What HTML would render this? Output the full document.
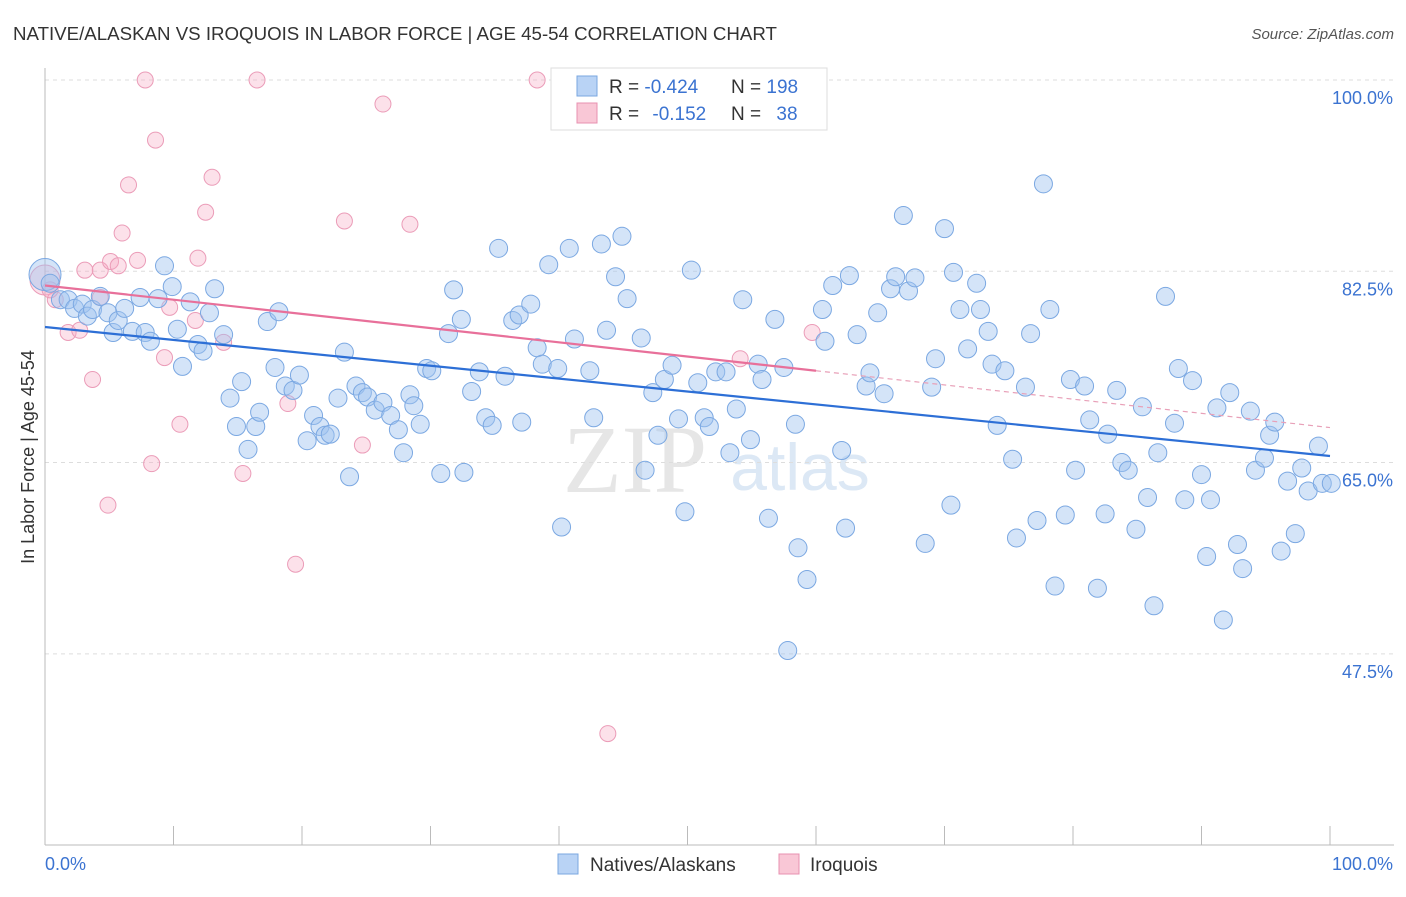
<!DOCTYPE html>
<html><head><meta charset="utf-8"><style>
body{margin:0;background:#fff;font-family:"Liberation Sans",sans-serif}
svg text{font-family:"Liberation Sans",sans-serif}
</style></head><body>
<svg id="chart" width="1406" height="892" viewBox="0 0 1406 892" xmlns="http://www.w3.org/2000/svg">
<text x="13" y="40" font-size="18.7" fill="#333">NATIVE/ALASKAN VS IROQUOIS IN LABOR FORCE | AGE 45-54 CORRELATION CHART</text>
<text x="1394" y="39" font-size="15" fill="#555" font-style="italic" text-anchor="end">Source: ZipAtlas.com</text>
<g>
<text x="635" y="492" font-size="96" fill="#e6e6e6" text-anchor="middle" font-family="Liberation Serif" style="font-family:'Liberation Serif',serif">ZIP</text>
<text x="800" y="490" font-size="66" fill="#dce8f5" text-anchor="middle">atlas</text>
</g>
<g id="grid"></g>
<g id="axes"></g>
<g id="pinkPts"></g>
<g id="bluePts"></g>
<g id="trends"></g>
<g>
<rect x="551" y="68" width="276" height="62" fill="#fff" stroke="#ddd"/>
<rect x="577" y="76" width="20" height="20" fill="#b9d3f5" stroke="#7aa7e0"/>
<rect x="577" y="103" width="20" height="20" fill="#f9c7d6" stroke="#e890b0"/>
<text x="609" y="93" font-size="19" fill="#333">R = <tspan fill="#3b73d1">-0.424</tspan></text>
<text x="731" y="93" font-size="19" fill="#333">N = <tspan fill="#3b73d1">198</tspan></text>
<text x="609" y="120" font-size="19" fill="#333">R = <tspan fill="#3b73d1" dx="8">-0.152</tspan></text>
<text x="731" y="120" font-size="19" fill="#333">N = <tspan fill="#3b73d1" dx="10">38</tspan></text>
</g>
<g>
<rect x="558" y="854" width="20" height="20" fill="#b9d3f5" stroke="#7aa7e0"/>
<text x="590" y="871" font-size="19" fill="#333">Natives/Alaskans</text>
<rect x="779" y="854" width="20" height="20" fill="#f9c7d6" stroke="#e890b0"/>
<text x="810" y="871" font-size="19" fill="#333">Iroquois</text>
</g>
</svg>
<script>
const yTicks=[100,82.5,65,47.5];
const yTickLabels=["100.0%","82.5%","65.0%","47.5%"];
const xTickLabels=["0.0%","100.0%"];
const blueX=[0,.4,1.2,1.8,2.3,2.9,3.3,3.7,4.3,4.9,5.3,5.7,6.2,6.8,7.4,7.8,8.2,8.8,9.3,9.9,10.3,10.7,11.3,11.9,12.3,12.8,13.2,13.9,14.4,14.9,15.3,15.8,16.4,16.7,17.3,17.9,18.2,18.7,19.3,19.8,20.4,20.9,21.4,21.8,22.2,22.8,23.3,23.7,24.2,24.7,25.1,25.7,26.3,26.9,27.5,27.9,28.4,28.7,29.2,29.7,30.1,30.8,31.4,31.8,32.4,32.6,33.2,33.8,34.3,34.8,35.3,35.8,36.4,36.9,37.1,37.8,38.3,38.7,39.2,39.9,40.2,40.8,41.2,42.4,42.7,43.3,43.7,44.4,44.9,45.3,46.4,46.7,47.3,47.7,48.2,48.8,49.3,49.8,50.3,50.8,51.3,51.7,52.2,53.0,53.3,53.8,54.3,54.9,55.5,55.8,56.3,56.8,57.5,57.8,58.4,58.6,59.3,60.5,60.7,61.3,62.0,62.3,62.6,63.2,63.9,64.2,64.8,65.3,65.8,66.2,66.8,67.2,67.7,68.5,69.0,69.3,70.0,70.5,70.7,71.2,71.8,72.5,72.8,73.4,73.7,74.1,74.7,75.3,75.6,76.3,76.7,77.2,77.7,78.2,78.6,79.4,79.8,80.2,80.9,81.3,81.9,82.5,82.7,83.4,83.8,84.3,84.9,85.4,85.8,86.3,86.6,87.2,87.9,88.2,88.7,89.3,90.0,90.4,90.7,91.2,91.7,92.2,92.8,93.2,93.8,94.2,94.9,95.3,95.7,96.2,96.7,97.3,97.8,98.3,99.1,99.4,100.1];
const blueY=[82.2,81.4,79.9,79.9,79.1,79.5,78.4,79.0,80.2,78.7,76.9,78.0,79.1,77.0,80.1,76.9,76.1,80.0,83.0,81.1,77.2,73.8,79.7,75.8,75.2,78.7,80.9,76.7,70.9,68.3,72.4,66.2,68.3,69.6,77.9,73.7,78.8,72.0,71.6,73.0,67.0,69.3,68.3,67.5,67.6,70.9,75.1,63.7,72.0,71.4,71.0,69.8,70.5,69.3,68.0,65.9,71.2,70.2,68.5,73.6,73.4,64.0,76.8,80.8,78.1,64.1,71.5,73.3,69.1,68.4,84.6,72.9,78.0,78.5,68.7,79.5,75.5,74.0,83.1,73.6,59.1,84.6,76.3,73.4,69.1,85.0,77.1,82.0,85.7,80.0,76.4,64.3,71.4,67.5,72.6,73.9,69.0,60.5,82.6,72.3,69.1,68.3,73.3,73.3,65.9,69.9,79.9,67.1,74.0,72.6,59.9,78.1,73.7,47.8,68.5,57.2,54.3,79.0,76.1,81.2,66.1,59.0,82.1,76.7,72.0,73.2,78.7,71.3,80.9,82.0,87.6,80.7,81.9,57.6,71.9,74.5,86.4,61.1,82.4,79.0,75.4,81.4,79.0,77.0,74.0,68.4,73.4,65.3,58.1,71.9,76.8,59.7,90.5,79.0,53.7,60.2,72.6,64.3,72.0,68.9,53.5,60.3,67.6,71.6,65.0,64.3,58.9,70.1,61.8,51.9,65.9,80.2,68.6,73.6,61.6,72.5,63.9,56.4,61.6,70.0,50.6,71.4,57.5,55.3,69.7,64.3,65.4,67.5,68.7,56.9,63.3,58.5,64.5,62.4,66.5,63.1,63.1];
const pinkX=[0,.8,1.8,2.7,3.7,4.3,4.9,5.1,5.7,6.0,6.5,7.2,7.8,8.3,8.6,9.3,9.7,10.5,11.7,11.9,12.5,13.0,13.9,15.4,16.5,18.9,19.5,23.3,24.7,26.3,28.4,38.3,43.8,54.1,59.7,3.1,4.3,.4];
const pinkY=[81.7,79.9,76.9,77.1,72.6,82.6,61.1,83.4,83.0,86.0,90.4,83.5,100,64.9,94.5,74.6,79.2,68.5,78.0,83.7,87.9,91.1,76.0,64.0,100,70.4,55.7,87.1,66.6,97.8,86.8,100,40.2,74.5,76.9,82.6,80.1,80.8];
const blueTrend=[77.4,65.6];
const pinkTrend=[81.2,68.2];
const pinkSolidEnd=60;
const NS="http://www.w3.org/2000/svg";
const X0=45,X1=1330,Y100=80,PXPER=10.93;
function sx(v){return X0+(X1-X0)*v/100;}
function sy(v){return Y100+(100-v)*PXPER;}
function mk(tag,attrs,parent){const e=document.createElementNS(NS,tag);for(const k in attrs)e.setAttribute(k,attrs[k]);parent.appendChild(e);return e;}
const grid=document.getElementById('grid'),axes=document.getElementById('axes');
yTicks.forEach((t,i)=>{
  const l=mk('line',{x1:45,x2:1394,y1:sy(t),y2:sy(t),stroke:'#ddd','stroke-dasharray':'4,4'},grid);
  
  
  const tx=mk('text',{x:1393,y:sy(t)+24,'font-size':18,fill:'#3b73d1','text-anchor':'end'},axes);
  tx.textContent=yTickLabels[i];
  
  
});
const ya=mk('line',{x1:45,x2:45,y1:68,y2:845,stroke:'#bbb'},axes);


const xa=mk('line',{x1:45,x2:1394,y1:845,y2:845,stroke:'#bbb'},axes);


for(let i=0;i<=10;i++){
  const t=mk('line',{x1:sx(i*10),x2:sx(i*10),y1:826,y2:845,stroke:'#bbb'},axes);
  
  
}
[[0,'start',45],[100,'end',1393]].forEach((p,i)=>{
  const t=mk('text',{x:p[2],y:870,'font-size':18,fill:'#3b73d1','text-anchor':p[1]},axes);
  t.textContent=xTickLabels[i];
  
  
});
const yt=mk('text',{x:0,y:0,'font-size':18,fill:'#333','text-anchor':'middle',transform:'translate(34,457) rotate(-90)'},axes);
yt.textContent='In Labor Force | Age 45-54';


const bp=document.getElementById('bluePts'),pp=document.getElementById('pinkPts');
pinkX.forEach((x,i)=>{
  const c=mk('circle',{cx:sx(x),cy:sy(pinkY[i]),r:i===0?15:8,fill:'rgba(246,168,196,0.35)',stroke:'#eb9cb8','stroke-width':1},pp);
  
  
});
blueX.forEach((x,i)=>{
  const c=mk('circle',{cx:sx(x),cy:sy(blueY[i]),r:i===0?16:9,fill:'rgba(160,196,240,0.45)',stroke:'#7ba8e2','stroke-width':1},bp);
  
  
});
const tr=document.getElementById('trends');
const pAt=v=>pinkTrend[0]+(pinkTrend[1]-pinkTrend[0])*v/100;
const l1=mk('line',{x1:sx(0),y1:sy(blueTrend[0]),x2:sx(100),y2:sy(blueTrend[1]),stroke:'#2d6fd6','stroke-width':2.2},tr);


const l2=mk('line',{x1:sx(0),y1:sy(pAt(0)),x2:sx(pinkSolidEnd),y2:sy(pAt(pinkSolidEnd)),stroke:'#e8709a','stroke-width':2.2},tr);


const l3=mk('line',{x1:sx(pinkSolidEnd),y1:sy(pAt(pinkSolidEnd)),x2:sx(100),y2:sy(pAt(100)),stroke:'#e8a0b8','stroke-width':1.2,'stroke-dasharray':'5,4'},tr);


</script>
</body></html>
